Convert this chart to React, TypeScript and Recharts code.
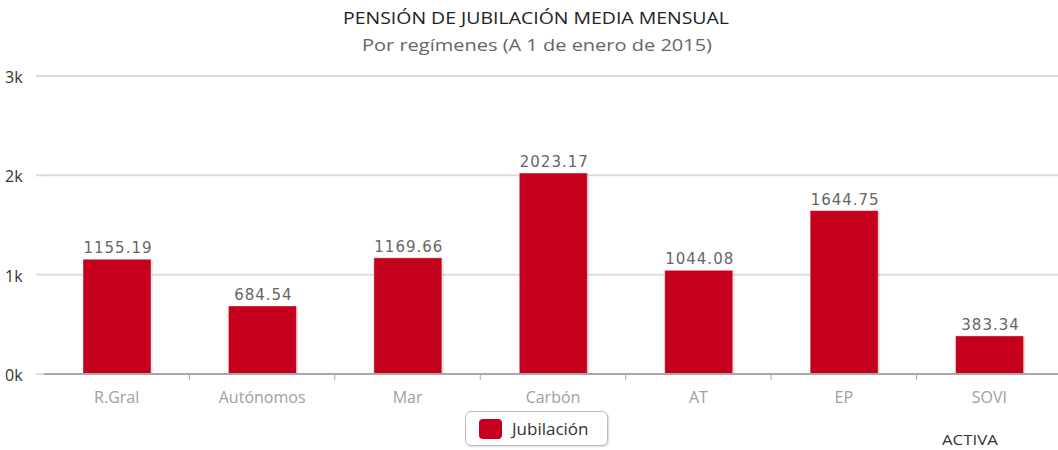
import React from "react";
import {
  BarChart,
  Bar,
  XAxis,
  YAxis,
  CartesianGrid,
  LabelList,
} from "recharts";

const categories = ["R.Gral", "Autónomos", "Mar", "Carbón", "AT", "EP", "SOVI"];
const jubilacion = [1155.19, 684.54, 1169.66, 2023.17, 1044.08, 1644.75, 383.34];
const yTicks = [0, 1000, 2000, 3000];
const seriesName = "Jubilación";

const data = categories.map((name, i) => ({ name, [seriesName]: jubilacion[i] }));

const RED = "#c4001c";
const BAND = 145.5;

const BarShape = (props: any) => {
  const { x, y, width, height } = props;
  if (!height || height <= 0) return null;
  return (
    <g>
      <rect x={x + 2} y={y + 1} width={width} height={height} fill="#000" opacity={0.08} />
      <rect x={x + 1} y={y + 1} width={width} height={height - 1} fill="#000" opacity={0.06} />
      <rect x={x} y={y} width={width} height={height} fill={RED} stroke="#fff" strokeOpacity={0.4} strokeWidth={1} />
    </g>
  );
};

const XTick = (props: any) => {
  const { x, y, payload, index } = props;
  return (
    <g>
      {index > 0 && (
        <line x1={x - BAND / 2} x2={x - BAND / 2} y1={y - 8} y2={y - 2} stroke="#a8a8a8" />
      )}
      <text
        x={x}
        y={y + 21}
        textAnchor="middle"
        fill="#a0a0a0"
        fontSize={16}
        fontFamily="'Open Sans', sans-serif"
      >
        {payload.value}
      </text>
    </g>
  );
};

const YTick = (props: any) => {
  const { y, payload } = props;
  return (
    <text
      x={5}
      y={y + 7}
      textAnchor="start"
      fill="#333"
      fontSize={16}
      fontFamily="'Open Sans', sans-serif"
    >
      {`${payload.value / 1000}k`}
    </text>
  );
};

const ValueLabel = (props: any) => {
  const { x, y, width, value } = props;
  return (
    <text
      x={x + width / 2 + 1}
      y={y - 6}
      textAnchor="middle"
      fill="#666"
      fontSize={15}
      letterSpacing={1}
      fontFamily="'DejaVu Sans', sans-serif"
    >
      {value.toFixed(2)}
    </text>
  );
};

export default function App() {
  return (
    <div
      style={{
        position: "absolute",
        left: 0,
        top: 0,
        width: 1058,
        height: 450,
        overflow: "hidden",
        background: "#fff",
      }}
    >
      <svg
        width={1058}
        height={70}
        style={{ position: "absolute", left: 0, top: 0 }}
      >
        <text
          x={536}
          y={24}
          textAnchor="middle"
          fill="#222"
          fontSize={17}
          fontFamily="'Open Sans', sans-serif"
          textLength={386}
          lengthAdjust="spacingAndGlyphs"
        >
          PENSIÓN DE JUBILACIÓN MEDIA MENSUAL
        </text>
        <text
          x={537}
          y={51}
          textAnchor="middle"
          fill="#666"
          fontSize={17}
          fontFamily="'Open Sans', sans-serif"
          textLength={350}
          lengthAdjust="spacingAndGlyphs"
        >
          Por regímenes (A 1 de enero de 2015)
        </text>
      </svg>
      <div style={{ position: "absolute", left: 0, top: 0 }}>
        <BarChart
          width={1064}
          height={450}
          data={data}
          margin={{ top: 76, right: 2, left: 8, bottom: 46 }}
        >
          <CartesianGrid vertical={false} stroke="#dcdcdc" strokeWidth={2} />
          <XAxis
            dataKey="name"
            axisLine={{ stroke: "#a8a8a8", strokeWidth: 2 }}
            tickLine={false}
            tick={<XTick />}
            interval={0}
            height={30}
          />
          <YAxis
            domain={[0, 3000]}
            ticks={yTicks}
            width={36}
            axisLine={false}
            tickLine={{ stroke: "#dcdcdc", strokeWidth: 2 }}
            tickSize={8}
            tick={<YTick />}
          />
          <Bar
            dataKey={seriesName}
            barSize={68}
            fill={RED}
            shape={<BarShape />}
            isAnimationActive={false}
          >
            <LabelList dataKey={seriesName} content={<ValueLabel />} />
          </Bar>
        </BarChart>
      </div>
      <div
        style={{
          position: "absolute",
          left: 465,
          top: 411,
          display: "flex",
          alignItems: "center",
          border: "1px solid #bbb",
          borderRadius: 6,
          padding: "5px 18px 5px 13px",
          background: "#fff",
          boxShadow: "1px 1px 2px rgba(0,0,0,0.15)",
        }}
      >
        <span
          style={{
            display: "inline-block",
            width: 23,
            height: 20,
            borderRadius: 4,
            background: RED,
            marginRight: 10,
          }}
        />
        <span style={{ fontFamily: "'Open Sans', sans-serif", fontSize: 17, color: "#333" }}>
          {seriesName}
        </span>
      </div>
      <div
        style={{
          position: "absolute",
          left: 942,
          top: 429,
          fontFamily: "'Open Sans', sans-serif",
          fontSize: 15,
          color: "#333",
          transform: "scaleX(1.12)",
          transformOrigin: "left center",
        }}
      >
        ACTIVA
      </div>
    </div>
  );
}
